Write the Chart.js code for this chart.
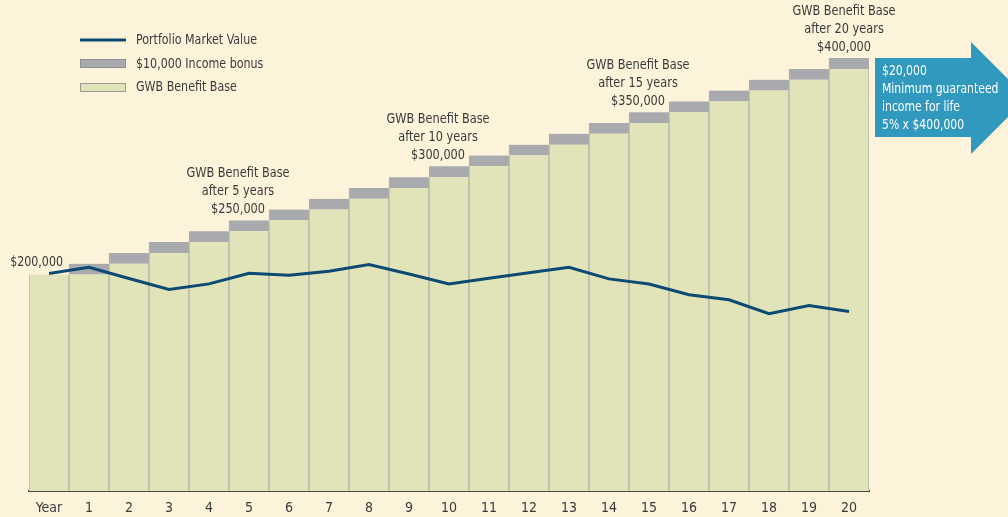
<!DOCTYPE html>
<html>
<head>
<meta charset="utf-8">
<script src="https://cdn.jsdelivr.net/npm/chart.js@4.4.1/dist/chart.umd.min.js"></script>
<style>
  html,body{margin:0;padding:0;background:#fdf3db;}
  #wrap{width:1008px;height:517px;position:relative;}
</style>
</head>
<body>
<div id="wrap"><canvas id="c" width="1008" height="517"></canvas></div>
<script>
const categories = ['Year','1','2','3','4','5','6','7','8','9','10','11','12','13','14','15','16','17','18','19','20'];
const benefitBase = [200000,200000,210000,220000,230000,240000,250000,260000,270000,280000,290000,300000,310000,320000,330000,340000,350000,360000,370000,380000,390000];
const incomeBonus = [0,10000,10000,10000,10000,10000,10000,10000,10000,10000,10000,10000,10000,10000,10000,10000,10000,10000,10000,10000,10000];
const portfolioValue = [201000,206700,196300,186200,191400,201200,199400,203000,209200,200500,191400,196500,201600,206700,196000,191300,181300,176700,163800,171400,165900];
const milestoneIdx = [5,10,15,20];
const milestoneLabels = [
  ['GWB Benefit Base','after 5 years','$250,000'],
  ['GWB Benefit Base','after 10 years','$300,000'],
  ['GWB Benefit Base','after 15 years','$350,000'],
  ['GWB Benefit Base','after 20 years','$400,000']
];
const startLabel = '$200,000';
const arrowLines = ['$20,000','Minimum guaranteed','income for life','5% x $400,000'];
const legendLabels = ['Portfolio Market Value','$10,000 Income bonus','GWB Benefit Base'];

const FONT = '"DejaVu Sans Condensed","Liberation Sans",sans-serif';
const TEXT = '#3a3a3a';
const GREEN = '#e1e4b8';
const GRAY = '#a8aaad';
const BORDER = '#b3b3ab';
const LINE = '#0c4a74';
const BLUE = '#3198be';

function sText(ctx, t, x, y, sx, align){
  ctx.save();
  ctx.translate(x, y);
  ctx.scale(sx, 1);
  ctx.textAlign = align;
  ctx.fillText(t, 0, 0);
  ctx.restore();
}

const deco = {
  id:'deco',
  beforeDraw(chart){
    const ctx = chart.ctx;
    ctx.save();
    ctx.fillStyle = '#fdf3db';
    ctx.fillRect(0,0,chart.width,chart.height);
    ctx.restore();
  },
  afterDraw(chart){
    const ctx = chart.ctx;
    const xs = chart.scales.x, ys = chart.scales.y;
    ctx.save();
    ctx.font = '14px ' + FONT;
    ctx.textBaseline = 'middle';
    // legend
    ctx.strokeStyle = LINE; ctx.lineWidth = 3;
    ctx.beginPath(); ctx.moveTo(80,40); ctx.lineTo(126,40); ctx.stroke();
    ctx.fillStyle = GRAY; ctx.fillRect(80,59,46,9);
    ctx.strokeStyle = '#8e8f92'; ctx.lineWidth = 1; ctx.strokeRect(80.5,59.5,45,8);
    ctx.fillStyle = GREEN; ctx.fillRect(80,83,46,9);
    ctx.strokeStyle = '#9a9a92'; ctx.strokeRect(80.5,83.5,45,8);
    ctx.fillStyle = TEXT;
    sText(ctx, legendLabels[0],136,40,0.88,'left');
    sText(ctx, legendLabels[1],136,64,0.88,'left');
    sText(ctx, legendLabels[2],136,87,0.88,'left');
    // start label
    sText(ctx, startLabel, 63, ys.getPixelForValue(benefitBase[0]) - 12, 0.88, 'right');
    // milestone labels
    milestoneIdx.forEach((idx,k)=>{
      const top = ys.getPixelForValue(benefitBase[idx]+incomeBonus[idx]);
      const cx = xs.getPixelForValue(idx) - (idx===20 ? 5 : 11);
      const lines = milestoneLabels[k];
      lines.forEach((t,j)=>{
        sText(ctx, t, cx, top - 11 - (lines.length-1-j)*18, 0.9, 'center');
      });
    });
    // arrow
    ctx.fillStyle = BLUE;
    ctx.beginPath();
    ctx.moveTo(875,58); ctx.lineTo(971,58); ctx.lineTo(971,42);
    ctx.lineTo(1027,98); ctx.lineTo(971,154); ctx.lineTo(971,137);
    ctx.lineTo(875,137); ctx.closePath(); ctx.fill();
    ctx.fillStyle = '#ffffff';
    arrowLines.forEach((t,j)=>sText(ctx, t, 882, 71 + j*18, 0.86, 'left'));
    ctx.restore();
  }
};

new Chart(document.getElementById('c'), {
  data: {
    labels: categories,
    datasets: [
      {type:'line', label:legendLabels[0], data:portfolioValue, borderColor:LINE, borderWidth:3,
       pointRadius:0, tension:0, fill:false, order:0},
      {type:'bar', label:legendLabels[2], data:benefitBase, backgroundColor:GREEN,
       borderColor:BORDER, borderWidth:{top:0,left:1,right:1,bottom:0}, stack:'s', order:1},
      {type:'bar', label:legendLabels[1], data:incomeBonus, backgroundColor:GRAY,
       borderColor:BORDER, borderWidth:{top:0,left:1,right:1,bottom:0}, stack:'s', order:1}
    ]
  },
  options: {
    responsive:false, animation:false,
    layout:{padding:{left:29,right:139,top:4,bottom:0}},
    datasets:{bar:{categoryPercentage:1, barPercentage:1}},
    plugins:{legend:{display:false}, tooltip:{enabled:false}},
    scales:{
      x:{stacked:true, grid:{display:false, drawTicks:false},
         border:{display:true, color:'#4a4a48', width:2},
         ticks:{color:TEXT, font:{family:FONT, size:14}, padding:9, maxRotation:0, autoSkip:false},
         afterFit(s){s.height = 26;}},
      y:{stacked:true, display:false, min:0, max:450000}
    }
  },
  plugins:[deco]
});
</script>
</body>
</html>
